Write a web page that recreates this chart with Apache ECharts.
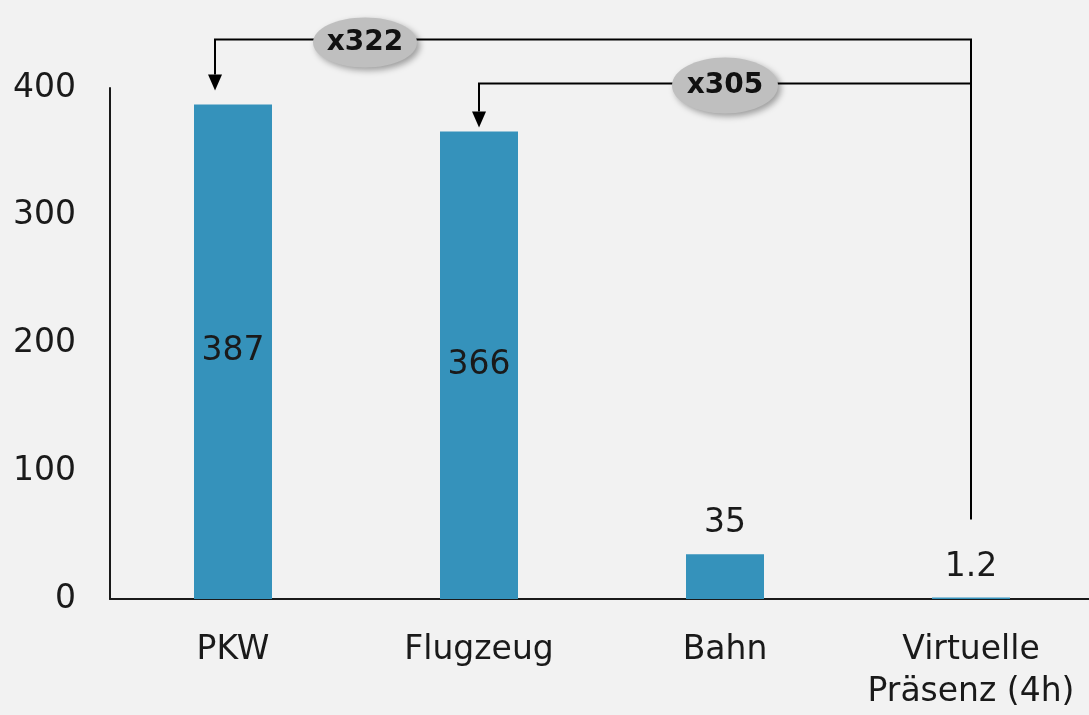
<!DOCTYPE html>
<html>
<head>
<meta charset="utf-8">
<script src="https://cdn.jsdelivr.net/npm/echarts@6/dist/echarts.min.js"></script>
<style>
  html, body { margin: 0; padding: 0; background: #f2f2f2; }
  #chart { width: 1089px; height: 715px; }
</style>
</head>
<body>
<div id="chart"></div>
<script>
// Daten
var categories = ['PKW', 'Flugzeug', 'Bahn', 'Virtuelle\nPräsenz (4h)'];
var values = [387, 366, 35, 1.2];
var yTicks = [0, 100, 200, 300, 400];
var factorLabels = ['x322', 'x305'];

var font = 'DejaVu Sans';
var chart = echarts.init(document.getElementById('chart'));

var option = {
  backgroundColor: '#f2f2f2',
  animation: false,
  grid: { left: 110, width: 984, top: 88, bottom: 116, outerBoundsMode: 'none' },
  xAxis: {
    type: 'category',
    data: categories,
    axisLine: { lineStyle: { color: '#1a1a1a', width: 2 } },
    axisTick: { show: false },
    axisLabel: {
      interval: 0,
      color: '#1a1a1a', fontFamily: font, fontSize: 33,
      margin: 30, lineHeight: 42
    }
  },
  yAxis: {
    type: 'value',
    min: yTicks[0],
    max: yTicks[yTicks.length - 1],
    interval: 100,
    splitLine: { show: false },
    axisLine: { show: true, lineStyle: { color: '#1a1a1a', width: 2 } },
    axisTick: { show: false },
    axisLabel: {
      color: '#1a1a1a', fontFamily: font, fontSize: 33, margin: 34
    }
  },
  series: [{
    type: 'bar',
    barWidth: 78,
    itemStyle: { color: '#3592bb' },
    data: values.map(function (v, i) {
      return {
        value: v,
        label: {
          show: true,
          position: i < 2 ? 'inside' : 'top',
          distance: 14,
          color: '#1a1a1a',
          fontFamily: font,
          fontSize: 33
        }
      };
    })
  }]
};
chart.setOption(option);

// Pfeile und Faktoren über die Achsenskala positionieren
function px(cat, val) {
  return chart.convertToPixel({ gridIndex: 0 }, [cat, val]);
}
var pkw = px(0, values[0]);
var flug = px(1, values[1]);
var bahn = px(2, values[2]);
var virt = px(3, values[3]);

var y1 = pkw[1] - 65;   // obere Linie
var y2 = flug[1] - 48;  // zweite Linie
var xPkw = pkw[0] - 18;
var xFlug = flug[0];
var xRight = virt[0];
var yBottom = virt[1] - 78;

function arrowHead(x, yTip) {
  return {
    type: 'polygon',
    shape: { points: [[x - 7, yTip - 16], [x + 7, yTip - 16], [x, yTip]] },
    style: { fill: '#000' }
  };
}

function bubble(cx, cy, rx, ry, text) {
  return {
    type: 'group',
    children: [{
      type: 'ellipse',
      shape: { cx: cx, cy: cy, rx: rx, ry: ry },
      style: {
        fill: '#bfbfbf',
        shadowBlur: 6, shadowOffsetX: 3, shadowOffsetY: 3,
        shadowColor: 'rgba(0,0,0,0.35)'
      }
    }, {
      type: 'text',
      x: cx, y: cy,
      style: {
        text: text, fill: '#111', fontFamily: font, fontWeight: 'bold',
        fontSize: 28, align: 'center', verticalAlign: 'middle'
      }
    }]
  };
}

chart.setOption({
  graphic: [
    {
      type: 'polyline',
      shape: { points: [[xPkw, pkw[1] - 16 - 14], [xPkw, y1], [xRight, y1], [xRight, yBottom]] },
      style: { stroke: '#000', lineWidth: 2, fill: null }
    },
    arrowHead(xPkw, pkw[1] - 14),
    {
      type: 'polyline',
      shape: { points: [[xFlug, flug[1] - 16 - 4], [xFlug, y2], [xRight, y2]] },
      style: { stroke: '#000', lineWidth: 2, fill: null }
    },
    arrowHead(xFlug, flug[1] - 4),
    bubble((pkw[0] + flug[0]) / 2 + 9, y1 + 3, 52, 25, factorLabels[0]),
    bubble(bahn[0], y2 + 2, 53, 28, factorLabels[1])
  ]
});
</script>
</body>
</html>
